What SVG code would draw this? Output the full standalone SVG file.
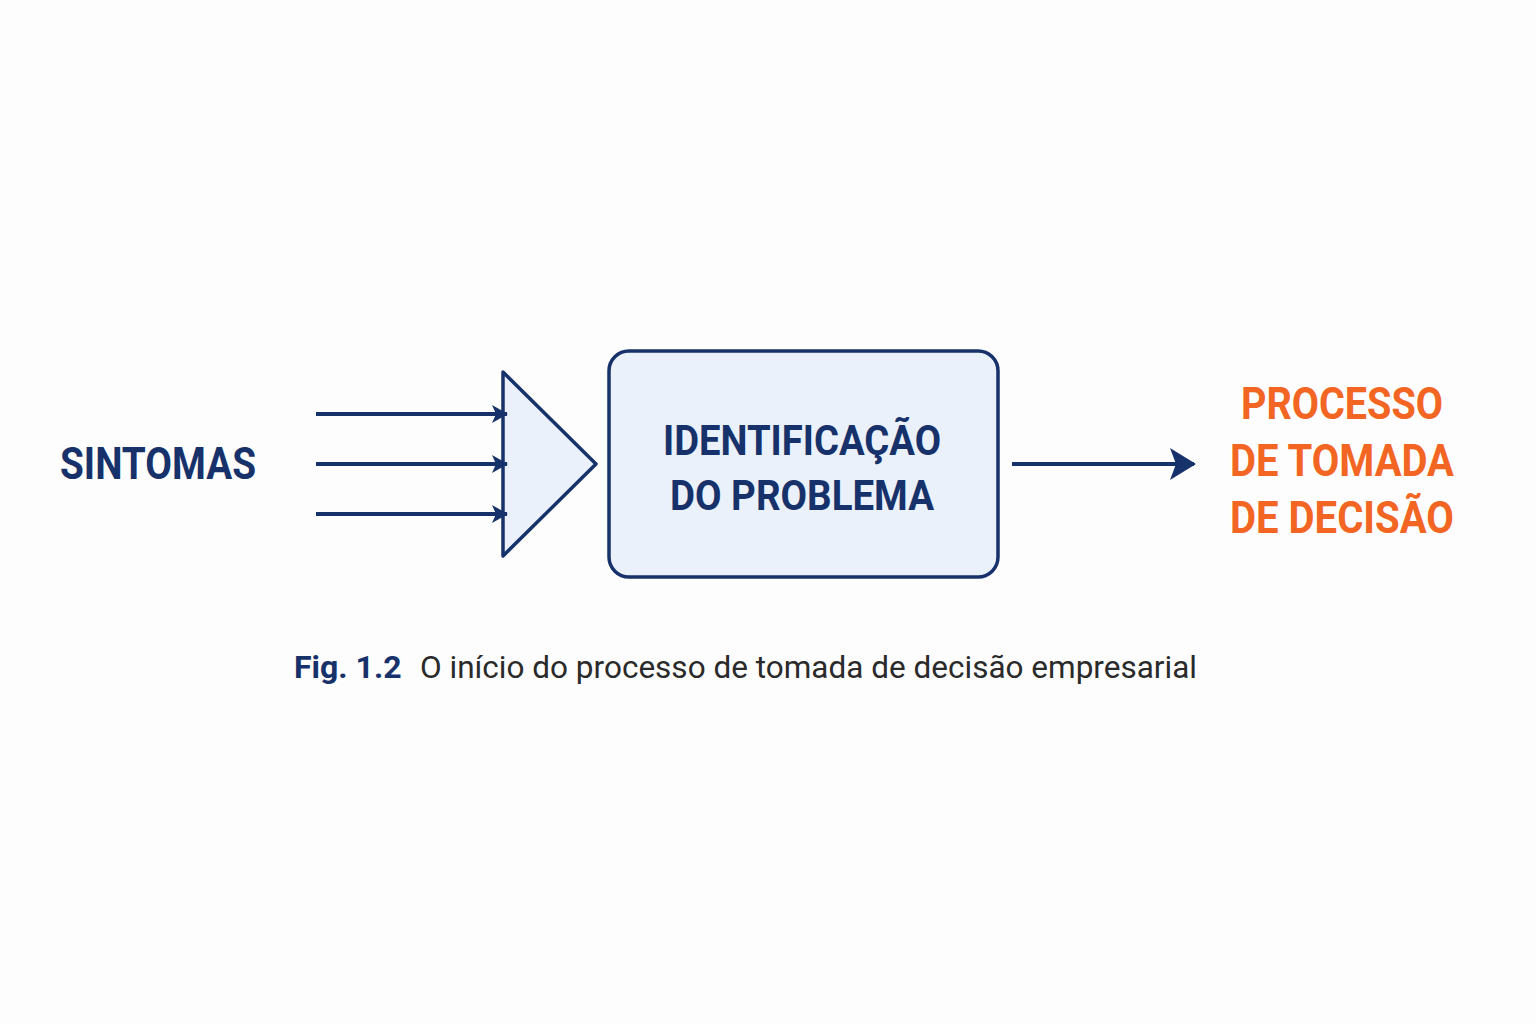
<svg xmlns="http://www.w3.org/2000/svg" width="1536" height="1024" viewBox="0 0 1536 1024">
<defs>
<style>
.t{font-family:Roboto,"Liberation Sans",sans-serif;font-weight:bold}
.n{fill:#17326a}
.o{fill:#f26522}
.ln{stroke:#17326a;stroke-width:4;fill:none}
</style>
<marker id="ah" markerWidth="16" markerHeight="18" refX="15" refY="9" orient="auto" markerUnits="userSpaceOnUse" viewBox="0 0 16 18"><path d="M0,0 L16,9 L0,18 L4,9 z" fill="#17326a"/></marker>
<marker id="ah2" markerWidth="26" markerHeight="32" refX="24" refY="16" orient="auto" markerUnits="userSpaceOnUse" viewBox="0 0 26 32"><path d="M0,0 L26,16 L0,32 L6,16 z" fill="#17326a"/></marker>
</defs>
<rect width="1536" height="1024" fill="#fdfdfd"/>
<g id="sintomas"><text class="t n" x="60" y="479" font-size="44" textLength="196" lengthAdjust="spacingAndGlyphs">SINTOMAS</text></g>
<g id="funnel"><path d="M503,372 L596,464 L503,556 Z" fill="#eaf1fb" stroke="#17326a" stroke-width="3.5" stroke-linejoin="round"/></g>
<g id="identificacao">
<rect x="609" y="351" width="389" height="226" rx="20" fill="#eaf1fb" stroke="#17326a" stroke-width="3.5"/>
<text class="t n" x="802" y="455" font-size="42" text-anchor="middle" textLength="278" lengthAdjust="spacingAndGlyphs">IDENTIFICAÇÃO</text>
<text class="t n" x="802" y="510" font-size="42" text-anchor="middle" textLength="264" lengthAdjust="spacingAndGlyphs">DO PROBLEMA</text>
</g>
<g id="processo">
<text class="t o" x="1342" y="419" font-size="44" text-anchor="middle" textLength="202" lengthAdjust="spacingAndGlyphs">PROCESSO</text>
<text class="t o" x="1342" y="476" font-size="44" text-anchor="middle" textLength="224" lengthAdjust="spacingAndGlyphs">DE TOMADA</text>
<text class="t o" x="1342" y="533" font-size="44" text-anchor="middle" textLength="224" lengthAdjust="spacingAndGlyphs">DE DECISÃO</text>
</g>
<g id="connectors">
<line class="ln" x1="316" y1="414" x2="507" y2="414" marker-end="url(#ah)"/>
<line class="ln" x1="316" y1="464" x2="507" y2="464" marker-end="url(#ah)"/>
<line class="ln" x1="316" y1="514" x2="507" y2="514" marker-end="url(#ah)"/>
<line class="ln" x1="1012" y1="464" x2="1194" y2="464" marker-end="url(#ah2)"/>
</g>
<g id="caption">
<text x="294" y="678" font-size="32" font-family="Roboto,'Liberation Sans',sans-serif"><tspan font-weight="bold" fill="#17326a">Fig. 1.2</tspan><tspan fill="#2a2a2a" x="420" textLength="777" lengthAdjust="spacingAndGlyphs">O início do processo de tomada de decisão empresarial</tspan></text>
</g>
</svg>
